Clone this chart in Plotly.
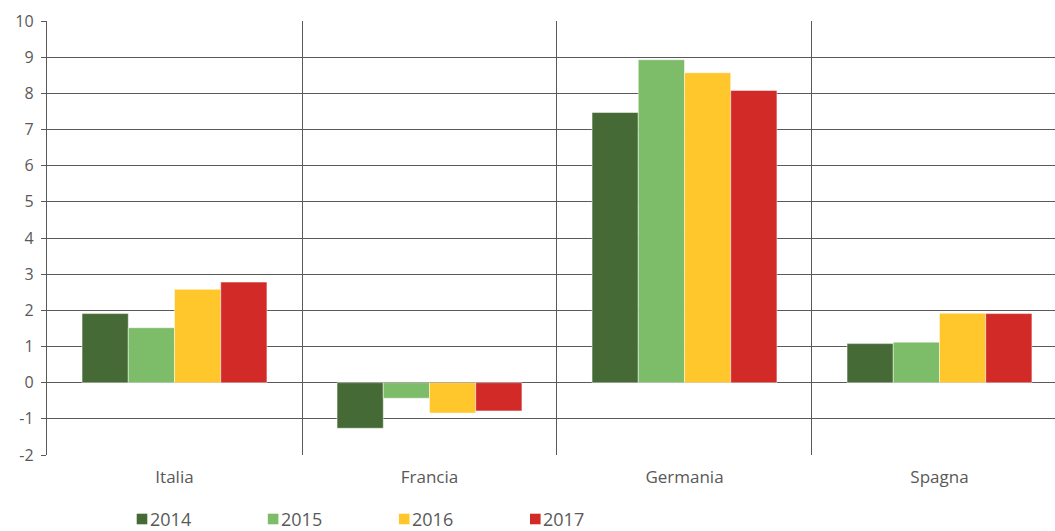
import plotly.graph_objects as go

# Paesi e anni
paesi = ["Italia", "Francia", "Germania", "Spagna"]
anni = ["2014", "2015", "2016", "2017"]

# Valori per anno (uno per paese)
v2014 = [1.91, -1.26, 7.47, 1.08]
v2015 = [1.52, -0.43, 8.93, 1.12]
v2016 = [2.58, -0.84, 8.57, 1.92]
v2017 = [2.78, -0.78, 8.08, 1.91]

# Tacche dell'asse y (con trattino semplice per i negativi)
y_tacche = list(range(-2, 11))
y_etichette = [str(v) for v in y_tacche]

colori = ["#466a35", "#7dbd6a", "#ffc72c", "#d22b27"]
serie = [v2014, v2015, v2016, v2017]

font_col = "#595959"
grid_col = "#5a5a5a"

fig = go.Figure()
for anno, valori, col in zip(anni, serie, colori):
    fig.add_trace(go.Bar(
        name=anno, x=paesi, y=valori,
        marker=dict(color=col, line=dict(color="rgba(255,255,255,0.6)", width=0.8)),
        showlegend=False,
    ))

# Area del grafico in pixel (per collocare la legenda sotto l'asse)
L, R, T, B = 47, 1055, 21, 455
W, H = R - L, B - T

def px_x(px):
    return (px - L) / W

def px_y(py):
    return (B - py) / H

# Legenda orizzontale: quadratino colorato + anno
leg_x0, leg_passo, leg_y = 136.7, 131.1, 519
for i, (anno, col) in enumerate(zip(anni, colori)):
    x0 = leg_x0 + i * leg_passo
    fig.add_shape(
        type="rect", xref="paper", yref="paper",
        x0=px_x(x0), x1=px_x(x0 + 10.6),
        y0=px_y(leg_y - 5.3), y1=px_y(leg_y + 5.3),
        fillcolor=col, line=dict(width=0),
    )
    fig.add_annotation(
        xref="paper", yref="paper", x=px_x(x0 + 11.8), y=px_y(leg_y),
        xanchor="left", yanchor="middle", showarrow=False,
        text=anno, font=dict(size=18, color=font_col), borderpad=0,
    )

fig.update_layout(
    width=1055, height=531,
    margin=dict(l=L, r=1055 - R, t=T, b=531 - B, autoexpand=False),
    paper_bgcolor="white", plot_bgcolor="white",
    barmode="group", bargap=0.275, bargroupgap=0,
    font=dict(family="Open Sans", size=16, color=font_col),
    showlegend=False,
    xaxis=dict(
        range=[-0.5, 3.453],
        tickson="boundaries",
        showgrid=True, gridcolor=grid_col, gridwidth=1.4,
        showline=False, ticks="",
        tickfont=dict(size=17, color=font_col),
        ticklabelstandoff=10,
        zeroline=False,
    ),
    yaxis=dict(
        range=[-2, 10],
        tickmode="array", tickvals=y_tacche, ticktext=y_etichette,
        showgrid=True, gridcolor=grid_col, gridwidth=1.4,
        zeroline=True, zerolinecolor=grid_col, zerolinewidth=1.4,
        ticks="outside", ticklen=5, tickcolor=grid_col, tickwidth=1.4,
        showline=True, linecolor=grid_col, linewidth=1.4,
        tickfont=dict(size=16, color=font_col),
        ticklabelstandoff=4,
    ),
)

fig.write_html("out.html")
